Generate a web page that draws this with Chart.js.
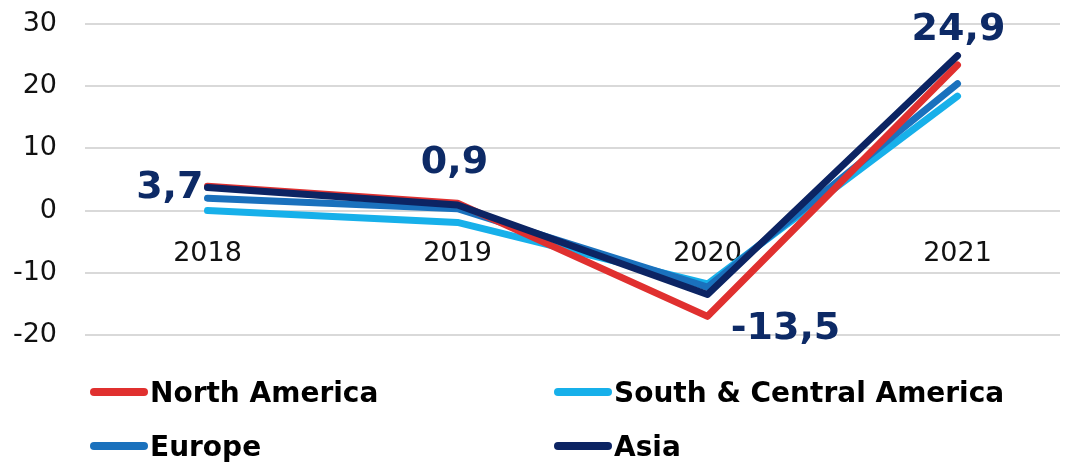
<!DOCTYPE html>
<html lang="en">
<head>
    <meta charset="UTF-8">
    <title>Regional growth 2018-2021</title>
    <style>
        body {
            margin: 0;
            background: #ffffff;
            font-family: "DejaVu Sans", sans-serif;
        }
        #wrap {
            position: relative;
            width: 1073px;
            height: 462px;
        }
        #legend {
            position: absolute;
            left: 90px;
            top: 378px;
            display: grid;
            grid-template-columns: 464px 460px;
            row-gap: 26px;
        }
        .item {
            display: flex;
            align-items: center;
            font-weight: bold;
            font-size: 28px;
            color: #000;
            height: 28px;
        }
        .swatch {
            width: 58px;
            height: 8px;
            border-radius: 4px;
            margin-right: 2px;
        }
    </style>
</head>
<body>

<div id="wrap">
    <canvas id="growthChart" width="1073" height="462"></canvas>
    <div id="legend"></div>
</div>

<script src="https://cdn.jsdelivr.net/npm/chart.js"></script>

<script>
    const years = ['2018', '2019', '2020', '2021'];
    const yTicks = [30, 20, 10, 0, -10, -20];

    const northAmerica = [3.9, 1.2, -17.0, 23.4];
    const southCentralAmerica = [0.0, -1.9, -11.8, 18.4];
    const europe = [2.0, 0.3, -12.3, 20.4];
    const asia = [3.7, 0.9, -13.5, 24.9];

    const series = [
        { label: 'North America', data: northAmerica, color: '#e0302f', order: 1 },
        { label: 'South & Central America', data: southCentralAmerica, color: '#17b0ea', order: 3 },
        { label: 'Europe', data: europe, color: '#1a71bd', order: 2 },
        { label: 'Asia', data: asia, color: '#0c2463', order: 0 }
    ];

    // where each Asia value label sits relative to its point
    const labelSpots = [
        { dx: -4, dy: 1, align: 'right' },
        { dx: -3, dy: -42, align: 'center' },
        { dx: 78, dy: 35, align: 'center' },
        { dx: 1, dy: -26, align: 'center' }
    ];

    const valueLabels = {
        id: 'valueLabels',
        afterDatasetsDraw(chart) {
            const idx = chart.data.datasets.findIndex(d => d.label === 'Asia');
            const meta = chart.getDatasetMeta(idx);
            const ctx = chart.ctx;
            ctx.save();
            ctx.font = 'bold 38px "DejaVu Sans"';
            ctx.fillStyle = '#0d2a66';
            ctx.textBaseline = 'middle';
            meta.data.forEach((pt, i) => {
                const spot = labelSpots[i];
                ctx.textAlign = spot.align;
                const txt = asia[i].toFixed(1).replace('.', ',');
                ctx.fillText(txt, pt.x + spot.dx, pt.y + spot.dy);
            });
            ctx.restore();
        }
    };

    const ctx = document.getElementById('growthChart').getContext('2d');
    new Chart(ctx, {
        type: 'line',
        data: {
            datasets: series.map(s => ({
                label: s.label,
                data: s.data.map((v, i) => ({ x: i, y: v })),
                borderColor: s.color,
                backgroundColor: s.color,
                borderWidth: 7,
                borderCapStyle: 'round',
                borderJoinStyle: 'round',
                pointRadius: 0,
                tension: 0,
                order: s.order
            }))
        },
        options: {
            responsive: false,
            animation: false,
            layout: {
                padding: { left: 0, right: 13, top: 24, bottom: 127 }
            },
            plugins: {
                legend: { display: false },
                tooltip: { enabled: false }
            },
            scales: {
                x: {
                    type: 'linear',
                    position: { y: 0 },
                    min: -0.49,
                    max: 3.41,
                    afterBuildTicks: axis => {
                        axis.ticks = years.map((y, i) => ({ value: i }));
                    },
                    // year labels sit inside the plot, so take no layout room
                    afterFit: axis => {
                        axis.height = 0;
                    },
                    grid: { display: false, drawTicks: false },
                    border: { display: false },
                    ticks: {
                        padding: 27,
                        color: '#111',
                        font: { family: 'DejaVu Sans', size: 27 },
                        callback: v => years[v]
                    }
                },
                y: {
                    min: -20,
                    max: 30,
                    afterBuildTicks: axis => {
                        axis.ticks = yTicks.map(v => ({ value: v }));
                    },
                    afterFit: axis => {
                        axis.width = 85;
                        axis.paddingTop = 0;
                        axis.paddingBottom = 0;
                    },
                    grid: { color: '#d9d9d9', lineWidth: 2, drawTicks: false },
                    border: { display: false },
                    ticks: {
                        padding: 28,
                        color: '#111',
                        font: { family: 'DejaVu Sans', size: 27 }
                    }
                }
            }
        },
        plugins: [valueLabels]
    });

    // legend, two columns
    const legend = document.getElementById('legend');
    series.forEach(s => {
        const item = document.createElement('div');
        item.className = 'item';
        item.innerHTML = `<span class="swatch" style="background:${s.color}"></span>${s.label}`;
        legend.appendChild(item);
    });
</script>

</body>
</html>
